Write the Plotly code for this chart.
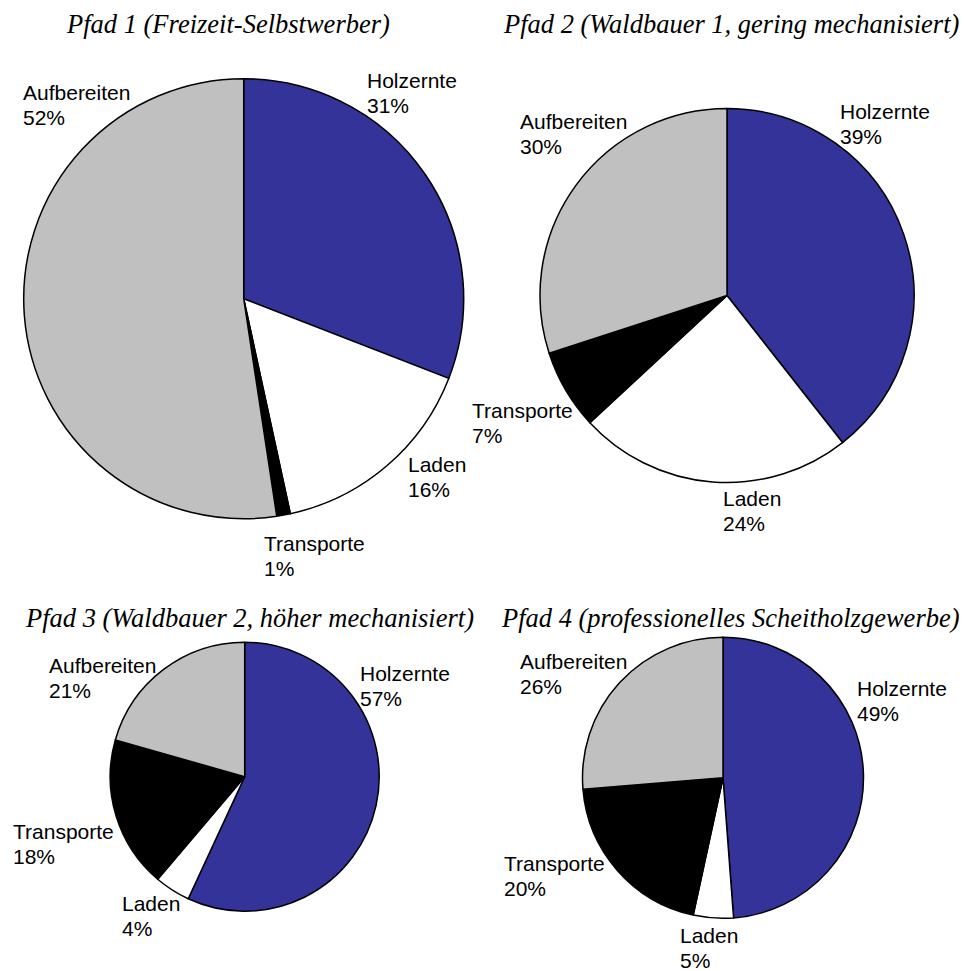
import plotly.graph_objects as go

W, H = 967, 971
OFF = 8  # page body margin of the browser
FW, FH = W - OFF, H - OFF

categories = ["Holzernte", "Laden", "Transporte", "Aufbereiten"]
colors = ["#333399", "#FFFFFF", "#000000", "#C0C0C0"]

titles = [
    "Pfad 1 (Freizeit-Selbstwerber)",
    "Pfad 2 (Waldbauer 1, gering mechanisiert)",
    "Pfad 3 (Waldbauer 2, höher mechanisiert)",
    "Pfad 4 (professionelles Scheitholzgewerbe)",
]
pfad1 = [30.9, 15.7, 1.0, 52.4]
pfad2 = [39.4, 23.7, 6.9, 30.0]
pfad3 = [56.9, 4.3, 18.2, 20.6]
pfad4 = [48.8, 4.6, 20.3, 26.3]
series = [pfad1, pfad2, pfad3, pfad4]

# layout (window pixels): pie centre and radius
pie_geo = [(243.7, 298.7, 220), (727, 295.5, 187), (244.7, 776.7, 134.5), (723, 777.8, 140.5)]
# title centre x, cap-top y
title_pos = [(228, 14), (731, 14), (249, 608), (730, 608)]
# label left x, cap-top y (per pie, per category)
label_pos = [
    [(366, 72), (407, 456), (263, 535), (22, 84)],
    [(839, 103), (722, 490), (471, 402), (519, 113)],
    [(359, 665), (121, 895), (12, 823), (48, 657)],
    [(856, 680), (679, 927), (503, 855), (519, 653)],
]


def px(x):
    return (x - OFF) / FW


def py(y):
    return 1 - (y - OFF) / FH


fig = go.Figure()
annotations = []
for i, vals in enumerate(series):
    cx, cy, r = pie_geo[i]
    fig.add_trace(go.Pie(
        labels=categories, values=vals, sort=False, direction="clockwise", rotation=0,
        marker=dict(colors=colors, line=dict(color="black", width=1.5)),
        textinfo="none", hoverinfo="label+percent", showlegend=False,
        domain=dict(x=[px(cx - r), px(cx + r)], y=[py(cy + r), py(cy - r)]),
    ))
    tx, ty = title_pos[i]
    annotations.append(dict(
        text=titles[i], x=px(tx), y=py(ty - 6), xref="paper", yref="paper",
        xanchor="center", yanchor="top", showarrow=False, borderpad=0,
        font=dict(family="Liberation Serif", size=26.5, color="black", style="italic"),
    ))
    total = sum(vals)
    for j, cat in enumerate(categories):
        lx, ly = label_pos[i][j]
        pct = f"{round(vals[j] / total * 100)}%"
        for k, t in enumerate([cat, pct]):
            annotations.append(dict(
                text=t, x=px(lx), y=py(ly - 4 + 25 * k), xref="paper", yref="paper",
                xanchor="left", yanchor="top", showarrow=False, borderpad=0,
                font=dict(family="Liberation Sans", size=21, color="black"),
            ))

fig.update_layout(
    width=FW, height=FH, margin=dict(l=0, r=0, t=0, b=0),
    paper_bgcolor="white", plot_bgcolor="white",
    annotations=annotations,
)
fig.write_html("out.html")
